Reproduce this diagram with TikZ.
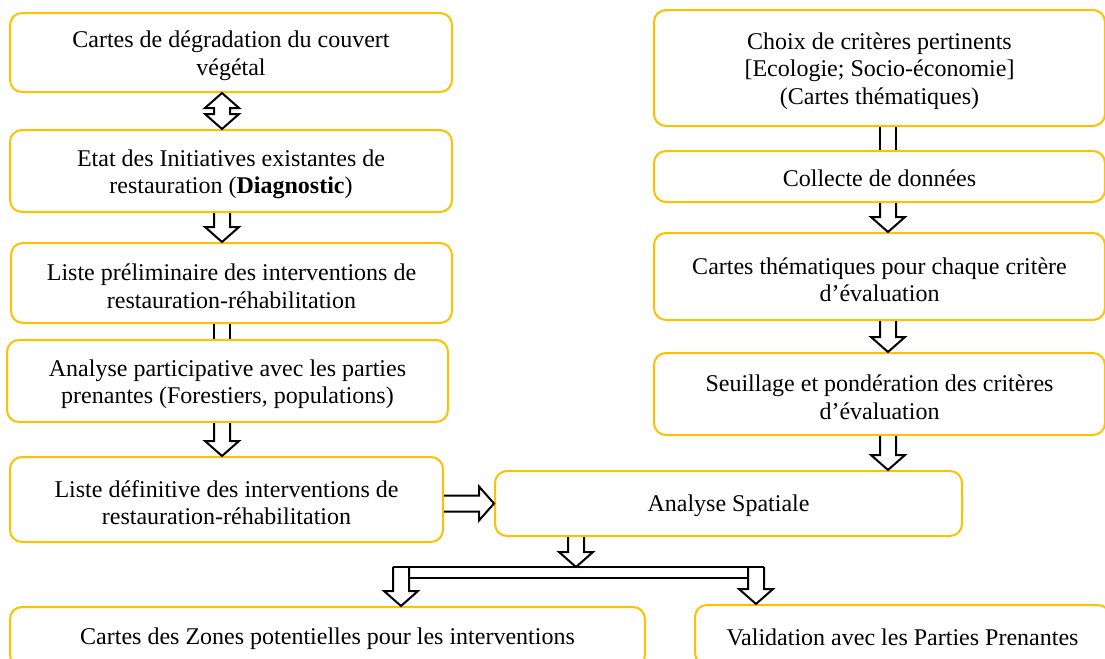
\documentclass[tikz,border=0pt]{standalone}
\usepackage{fontspec}
\setmainfont{Liberation Serif}
\usetikzlibrary{calc, positioning}
\definecolor{boxgold}{RGB}{255, 192, 0}
\newcommand{\arrshaft}{4pt}
\newcommand{\arrhead}{8.5pt}
\newcommand{\arrlen}{7.5pt}
\tikzset{
  box/.style={draw=boxgold, line width=1pt, rounded corners=6pt, fill=white, align=center, inner sep=2pt,
    font=\fontsize{12}{13.8}\selectfont, text height=10.5pt},
  twoline/.style={text height=25.4pt},
  threeline/.style={text height=39pt},
  arrline/.style={draw=black, line width=1pt, line join=miter},
  blockarr/.style={arrline, to path={
    ($(\tikztostart)!\arrshaft!90:(\tikztotarget)$)
    -- ($(\tikztotarget)!\arrlen!(\tikztostart)!\arrshaft!90:(\tikztotarget)$)
    -- ($(\tikztotarget)!\arrlen!(\tikztostart)!\arrhead!90:(\tikztotarget)$)
    -- (\tikztotarget)
    -- ($(\tikztotarget)!\arrlen!(\tikztostart)!\arrhead!-90:(\tikztotarget)$)
    -- ($(\tikztotarget)!\arrlen!(\tikztostart)!\arrshaft!-90:(\tikztotarget)$)
    -- ($(\tikztostart)!\arrshaft!-90:(\tikztotarget)$)}},
  dblarr/.style={arrline, to path={
    (\tikztostart)
    -- ($(\tikztostart)!\arrlen!(\tikztotarget)!\arrhead!90:(\tikztotarget)$)
    -- ($(\tikztostart)!\arrlen!(\tikztotarget)!\arrshaft!90:(\tikztotarget)$)
    -- ($(\tikztotarget)!\arrlen!(\tikztostart)!\arrshaft!90:(\tikztotarget)$)
    -- ($(\tikztotarget)!\arrlen!(\tikztostart)!\arrhead!90:(\tikztotarget)$)
    -- (\tikztotarget)
    -- ($(\tikztotarget)!\arrlen!(\tikztostart)!\arrhead!-90:(\tikztotarget)$)
    -- ($(\tikztotarget)!\arrlen!(\tikztostart)!\arrshaft!-90:(\tikztotarget)$)
    -- ($(\tikztostart)!\arrlen!(\tikztotarget)!\arrshaft!-90:(\tikztotarget)$)
    -- ($(\tikztostart)!\arrlen!(\tikztotarget)!\arrhead!-90:(\tikztotarget)$)
    -- cycle}},
  shaftonly/.style={arrline, to path={
    ($(\tikztostart)!\arrshaft!90:(\tikztotarget)$) -- ($(\tikztotarget)!\arrshaft!-90:(\tikztostart)$)
    ($(\tikztostart)!\arrshaft!-90:(\tikztotarget)$) -- ($(\tikztotarget)!\arrshaft!90:(\tikztostart)$)}}
}

\begin{document}
\begin{tikzpicture}[x=0.5pt, y=-0.5pt]
  \useasboundingbox (0,0) rectangle (1105,659);

  % Left column
  \node[box, twoline, minimum width=221pt, minimum height=39.5pt] (L1) at (231, 52.5) {Cartes de dégradation du couvert\\végétal};
  \node[box, twoline, minimum width=221pt, minimum height=41pt] (L2) at (231, 171) {Etat des Initiatives existantes de\\restauration (\textbf{Diagnostic})};
  \node[box, twoline, minimum width=220.5pt, minimum height=40pt] (L3) at (231.5, 283) {Liste préliminaire des interventions de\\restauration-réhabilitation};
  \node[box, twoline, minimum width=220.5pt, minimum height=41pt] (L4) at (227.5, 381) {Analyse participative avec les parties\\prenantes (Forestiers, populations)};
  \node[box, twoline, minimum width=216.5pt, minimum height=42.5pt] (L5) at (226.5, 499.5) {Liste définitive des interventions de\\restauration-réhabilitation};

  % Right column
  \node[box, threeline, minimum width=225.5pt, minimum height=58pt] (R1) at (879.5, 68) {Choix de critères pertinents\\{[Ecologie; Socio-économie]}\\(Cartes thématiques)};
  \node[box, minimum width=225.5pt, minimum height=25.5pt] (R2) at (879.5, 176.5) {Collecte de données};
  \node[box, twoline, minimum width=225.5pt, minimum height=43.5pt] (R3) at (879.5, 276.5) {Cartes thématiques pour chaque critère\\d’évaluation};
  \node[box, twoline, minimum width=225.5pt, minimum height=41pt] (R4) at (879.5, 394) {Seuillage et pondération des critères\\d’évaluation};

  % Spatial analysis and outputs
  \node[box, minimum width=233.5pt, minimum height=32.5pt] (AS) at (728.5, 503.5) {Analyse Spatiale};
  \node[box, minimum width=317.5pt, minimum height=30pt] (Z) at (327.5, 637) {Cartes des Zones potentielles pour les interventions};
  \node[box, minimum width=207.5pt, minimum height=30pt] (V) at (902.5, 635) {Validation avec les Parties Prenantes};

  % Arrow columns
  \coordinate (colL) at (222, 0);
  \coordinate (colR) at (888, 0);
  \coordinate (bar) at (576, 567);
  \coordinate (barL) at (401, 567);
  \coordinate (barR) at (756, 567);

  \draw[dblarr] (L1.south -| colL) to (L2.north -| colL);
  \draw[blockarr] (L2.south -| colL) to (L3.north -| colL);
  \draw[shaftonly] (L3.south -| colL) to (L4.north -| colL);
  \draw[blockarr] (L4.south -| colL) to (L5.north -| colL);
  \draw[blockarr] (AS.west -| L5.east) to (AS.west);

  \draw[shaftonly] (R1.south -| colR) to (R2.north -| colR);
  \draw[blockarr] (R2.south -| colR) to (R3.north -| colR);
  \draw[blockarr] (R3.south -| colR) to (R4.north -| colR);
  \draw[blockarr] (R4.south -| colR) to (AS.north -| colR);

  % Fork
  \draw[blockarr] (AS.south -| bar) to (bar);
  \draw[arrline] ($(barL)+(-8,0)$) -- ($(barR)+(8,0)$);
  \draw[arrline] ($(barL)+(8,11)$) -- ($(barR)+(-8,11)$);
  \draw[blockarr] (barL) to (barL |- Z.north);
  \draw[blockarr] (barR) to (barR |- V.north);
\end{tikzpicture}
\end{document}
